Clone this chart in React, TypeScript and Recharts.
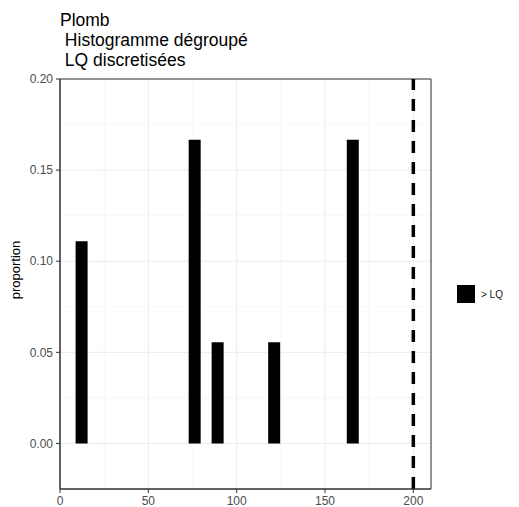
import {
  ComposedChart,
  Bar,
  XAxis,
  YAxis,
  CartesianGrid,
  ReferenceLine,
  ReferenceArea,
} from "recharts";

// histogram bins (centre of bin) and proportions
const binCentres = [12.5, 76.5, 89.5, 121.5, 166];
const proportions = [0.111, 0.1667, 0.0556, 0.0556, 0.1667];

const xTicks = [0, 50, 100, 150, 200];
const yTicks = [0, 0.05, 0.1, 0.15, 0.2];
const xMinor = [25, 75, 125, 175];
const yMinor = [0.025, 0.075, 0.125, 0.175];
const lqLimit = 200;

const titleLines = ["Plomb", " Histogramme dégroupé", " LQ discretisées"];
const seriesName = "> LQ";
const yLabel = "proportion";

const data = binCentres.map((x, i) => ({ x, p: proportions[i] }));

const font = "'Liberation Sans', Arial, sans-serif";

export default function App() {
  return (
    <div
      style={{
        position: "absolute",
        left: 0,
        top: 0,
        width: 519,
        height: 507,
        background: "#fff",
        fontFamily: font,
      }}
    >
      <div
        style={{
          position: "absolute",
          left: 60,
          top: 10,
          fontSize: 17.5,
          lineHeight: "20px",
          color: "#000",
          whiteSpace: "pre",
        }}
      >
        {titleLines.map((t) => (
          <div key={t}>{t}</div>
        ))}
      </div>
      <ComposedChart
        width={519}
        height={507}
        data={data}
        margin={{ top: 79, right: 88, bottom: 0, left: 0 }}
      >
        {/* minor grid then major grid */}
        <CartesianGrid
          stroke="#f3f3f3"
          strokeWidth={0.6}
          verticalValues={xMinor}
          horizontalValues={yMinor}
        />
        <CartesianGrid stroke="#ebebeb" strokeWidth={1} />
        <XAxis
          dataKey="x"
          type="number"
          domain={[0, 210]}
          ticks={xTicks}
          allowDataOverflow
          height={18}
          tickSize={4}
          tickMargin={3}
          tick={{ fontSize: 12, fill: "#4d4d4d", fontFamily: font }}
          axisLine={{ stroke: "#333" }}
          tickLine={{ stroke: "#333" }}
        />
        <YAxis
          type="number"
          domain={[-0.025, 0.2]}
          ticks={yTicks}
          allowDataOverflow
          width={60}
          tickSize={4}
          tickMargin={3}
          tickFormatter={(v: number) => v.toFixed(2)}
          tick={{ fontSize: 12, fill: "#4d4d4d", fontFamily: font }}
          axisLine={{ stroke: "#333" }}
          tickLine={{ stroke: "#333" }}
        />
        <ReferenceArea
          x1={0}
          x2={210}
          y1={-0.025}
          y2={0.2}
          fill="none"
          stroke="#333"
          strokeWidth={1}
        />
        <Bar dataKey="p" name={seriesName} fill="#000" barSize={12} isAnimationActive={false} />
        <ReferenceLine
          x={lqLimit}
          stroke="#000"
          strokeWidth={3.5}
          strokeDasharray="12 9"
        />
      </ComposedChart>
      <div
        style={{
          position: "absolute",
          left: 15,
          top: 270,
          fontSize: 13,
          color: "#000",
          whiteSpace: "nowrap",
          transform: "translate(-50%, -50%) rotate(-90deg)",
        }}
      >
        {yLabel}
      </div>
      <div
        style={{
          position: "absolute",
          left: 457,
          top: 285,
          display: "flex",
          alignItems: "center",
        }}
      >
        <div style={{ width: 18, height: 18, background: "#000" }} />
        <span style={{ marginLeft: 6, fontSize: 10, color: "#1a1a1a" }}>
          {seriesName}
        </span>
      </div>
    </div>
  );
}
